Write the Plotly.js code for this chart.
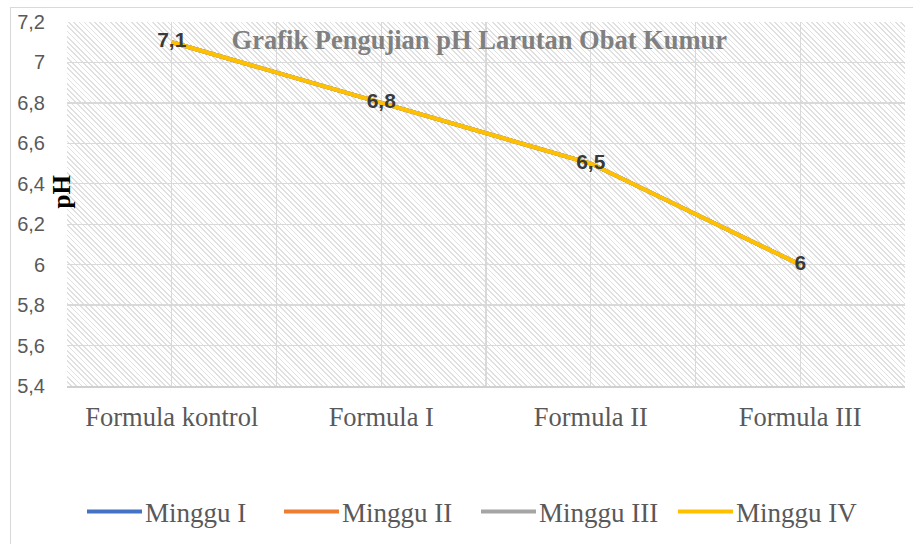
<!DOCTYPE html>
<html>
<head>
<meta charset="utf-8">
<script src="https://cdn.plot.ly/plotly-3.0.1.min.js"></script>
<style>
  html, body { margin: 0; padding: 0; background: #ffffff; }
  #wrap { position: relative; width: 913px; height: 544px; overflow: hidden; }
  #frame { position: absolute; left: 10px; top: 7px; width: 920px; height: 560px;
           border-left: 1.5px solid #d9d9d9; border-top: 1.5px solid #d9d9d9; }
  #hatch { position: absolute; left: 67px; top: 22px; width: 838px; height: 364px;
           background: repeating-linear-gradient(45deg, #ffffff 0px, #ffffff 2.5px, #e0e0e0 2.5px, #e0e0e0 3.7px); }
  #chart { position: absolute; left: 0; top: 0; width: 913px; height: 544px; }
</style>
</head>
<body>
<div id="wrap">
  <div id="frame"></div>
  <div id="hatch"></div>
  <div id="chart"></div>
</div>
<script>
const categories = ["Formula kontrol", "Formula I", "Formula II", "Formula III"];
const mingguI   = [7.1, 6.8, 6.5, 6.0];
const mingguII  = [7.1, 6.8, 6.5, 6.0];
const mingguIII = [7.1, 6.8, 6.5, 6.0];
const mingguIV  = [7.1, 6.8, 6.5, 6.0];
const seriesNames = ["Minggu I", "Minggu II", "Minggu III", "Minggu IV"];
const yTickVals = [5.4, 5.6, 5.8, 6.0, 6.2, 6.4, 6.6, 6.8, 7.0, 7.2];

const colors = ["#4472C4", "#ED7D31", "#A5A5A5", "#FFC000"];
const xs = categories.map((c, i) => i);
const allSeries = [mingguI, mingguII, mingguIII, mingguIV];

const traces = allSeries.map((vals, k) => {
  const isLast = k === allSeries.length - 1;
  return {
    x: xs,
    y: vals,
    name: seriesNames[k],
    type: "scatter",
    mode: isLast ? "lines+text" : "lines",
    line: { color: colors[k], width: 4 },
    text: isLast ? vals.map(v => String(v).replace(".", ",")) : undefined,
    textposition: "middle center",
    textfont: { family: "Liberation Sans, Arial, sans-serif", size: 21, color: "#3a3a3a", weight: "bold" },
    cliponaxis: false,
    hoverinfo: "skip"
  };
});

const layout = {
  width: 913,
  height: 544,
  margin: { l: 67, r: 8, t: 22, b: 158 },
  paper_bgcolor: "rgba(0,0,0,0)",
  plot_bgcolor: "rgba(0,0,0,0)",
  separators: ",.",
  showlegend: true,
  title: {
    text: "Grafik Pengujian pH Larutan Obat Kumur",
    font: { family: "Liberation Serif, Times New Roman, serif", size: 26.5, color: "#808080", weight: "bold" },
    xref: "container", x: 0.525, xanchor: "center",
    yref: "container", y: 1 - 40 / 544, yanchor: "middle"
  },
  xaxis: {
    type: "linear",
    range: [-0.5, 3.5],
    tickmode: "array",
    tickvals: xs,
    ticktext: categories,
    showgrid: true,
    gridcolor: "#d9d9d9",
    gridwidth: 1.3,
    minor: { tick0: -0.5, dtick: 0.5, showgrid: true, gridcolor: "#d9d9d9", gridwidth: 1.3, ticks: "" },
    zeroline: false,
    showline: true,
    linecolor: "#d0d0d0",
    linewidth: 1.5,
    ticks: "",
    ticklabelstandoff: 7,
    tickfont: { family: "Liberation Serif, Times New Roman, serif", size: 26.5, color: "#595959" },
    fixedrange: true
  },
  yaxis: {
    range: [5.4, 7.2],
    tickmode: "array",
    tickvals: yTickVals,
    showgrid: true,
    gridcolor: "#d9d9d9",
    gridwidth: 1.3,
    zeroline: false,
    showline: false,
    ticks: "",
    ticklabelstandoff: 21,
    tickfont: { family: "Liberation Sans, Arial, sans-serif", size: 20, color: "#595959" },
    fixedrange: true
  },
  annotations: [{
    text: "pH",
    textangle: -90,
    xref: "paper", yref: "paper",
    x: -0.007, y: 0.535,
    xanchor: "center", yanchor: "middle",
    showarrow: false,
    font: { family: "Liberation Serif, Times New Roman, serif", size: 25, color: "#000000", weight: "bold" }
  }],
  legend: {
    orientation: "h",
    xref: "container", x: 80 / 913, xanchor: "left",
    yref: "container", y: 1 - 512 / 544, yanchor: "middle",
    font: { family: "Liberation Serif, Times New Roman, serif", size: 27, color: "#595959" },
    itemwidth: 55,
    entrywidth: 127,
    entrywidthmode: "pixels",
    tracegroupgap: 0,
    bgcolor: "rgba(0,0,0,0)"
  }
};

Plotly.newPlot("chart", traces, layout, { displayModeBar: false, staticPlot: true }).then(gd => {
  // lengthen the legend line samples to match the wider symbol area
  gd.querySelectorAll(".legend .legendlines path").forEach(p => p.setAttribute("d", "M7,0h55"));
});
</script>
</body>
</html>
